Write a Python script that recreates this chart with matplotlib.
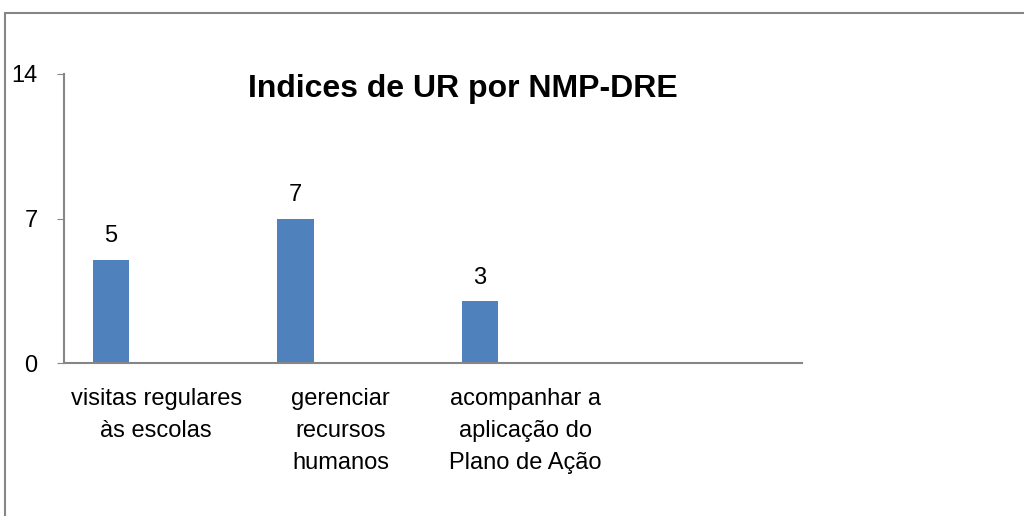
import matplotlib
matplotlib.use('Agg')
import numpy as np
import matplotlib.pyplot as plt
from matplotlib.patches import Rectangle

categorias = ['visitas regulares\nàs escolas', 'gerenciar\nrecursos\nhumanos',
              'acompanhar a\naplicação do\nPlano de Ação', '']
valores = [5, 7, 3, None]
titulo = 'Indices de UR por NMP-DRE'
yticks = [0, 7, 14]

plt.rcParams['font.family'] = ['Liberation Sans', 'DejaVu Sans']
cinza = '#868686'
azul = '#4F81BD'

fig = plt.figure(figsize=(10.24, 5.16), dpi=100)
ax = fig.add_axes([64/1024, 1-363/516, (802-64)/1024, (363-74)/516])

# moldura do grafico (cortada a direita e embaixo)
fig.patches.append(Rectangle((4.5/1024, -0.1), 1.2, 1.1 - 12.5/516,
                             transform=fig.transFigure, fill=False,
                             edgecolor=cinza, linewidth=1.5))

x = np.arange(len(categorias))
off = -0.245
for xi, v in zip(x, valores):
    if v is None:
        continue
    ax.bar(xi + off, v, width=0.2, color=azul)
    ax.text(xi + off, v + 0.85, str(v), ha='center', va='baseline', fontsize=17)

ax.set_xlim(-0.5, 3.5)
ax.set_ylim(0, 14)
ax.set_yticks(yticks)
ax.set_yticklabels([str(t) for t in yticks], fontsize=17)
ax.set_xticks(x)
ax.set_xticklabels(categorias, fontsize=17, linespacing=1.59, va='top')
ax.tick_params(axis='x', length=0, pad=18)
ax.tick_params(axis='y', length=5, color=cinza, pad=14)

for s in ['top', 'right']:
    ax.spines[s].set_visible(False)
for s in ['left', 'bottom']:
    ax.spines[s].set_color(cinza)
    ax.spines[s].set_linewidth(1.5)

fig.text(463/1024, 1-97/516, titulo, ha='center', va='baseline',
         fontsize=23, fontweight='bold')

fig.savefig('out.png', dpi=100)
